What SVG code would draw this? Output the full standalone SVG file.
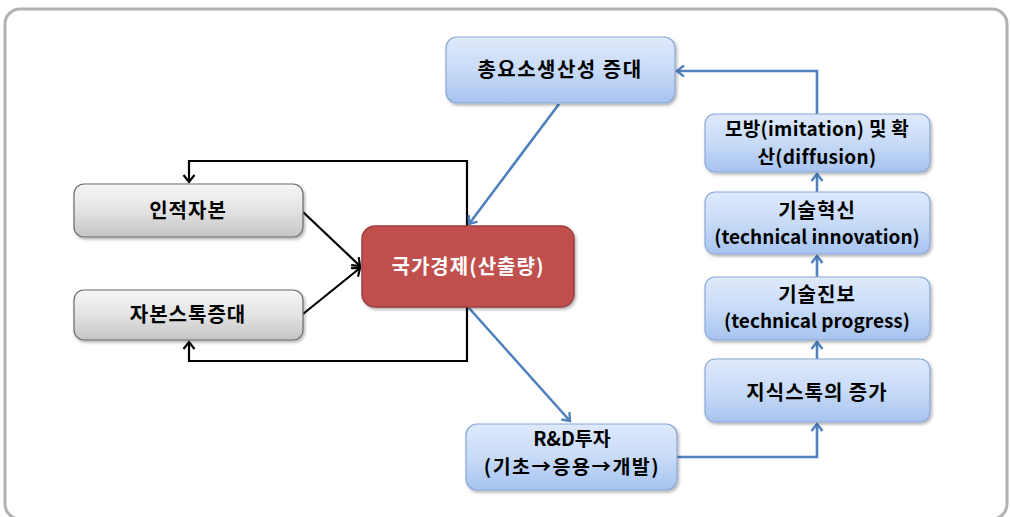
<svg xmlns="http://www.w3.org/2000/svg" width="1010" height="517" viewBox="0 0 1010 517">
<style>
.t{font-family:"Malgun Gothic","Noto Sans CJK KR","Noto Sans",sans-serif;font-weight:bold;font-size:19.5px;text-anchor:middle;fill:#000}
.k{font-size:20px;letter-spacing:1px}
.w{fill:#fff}
.blue{fill:url(#gb);stroke:#8aa8d6;stroke-width:1.2}
.gray{fill:url(#gg);stroke:#6a6a6a;stroke-width:1.2}
.red{fill:#c0504d;stroke:#9c3f3d;stroke-width:1.5}
.cb{fill:none;stroke:#000;stroke-width:2.2}
.cl{fill:none;stroke:#4f81bd;stroke-width:2.6}
</style>
<defs>
<linearGradient id="gb" x1="0" y1="0" x2="0" y2="1">
<stop offset="0" stop-color="#dfe9fb"/>
<stop offset="0.5" stop-color="#c8dbf7"/>
<stop offset="1" stop-color="#a6c3ef"/>
</linearGradient>
<linearGradient id="gg" x1="0" y1="0" x2="0" y2="1">
<stop offset="0" stop-color="#f6f6f6"/>
<stop offset="0.5" stop-color="#e3e3e3"/>
<stop offset="1" stop-color="#c4c4c4"/>
</linearGradient>
<filter id="sh" x="-10%" y="-10%" width="130%" height="140%">
<feDropShadow dx="1.5" dy="2" stdDeviation="1.5" flood-color="#000" flood-opacity="0.3"/>
</filter>
<marker id="ab" markerUnits="userSpaceOnUse" markerWidth="14" markerHeight="14" refX="10" refY="7" orient="auto">
<path d="M3,1.5 L10,7 L3,12.5" fill="none" stroke="#000" stroke-width="2.2"/>
</marker>
<marker id="al" markerUnits="userSpaceOnUse" markerWidth="14" markerHeight="14" refX="10" refY="7" orient="auto">
<path d="M3,1.5 L10,7 L3,12.5" fill="none" stroke="#4f81bd" stroke-width="2.4"/>
</marker>
</defs>
<rect x="5" y="9" width="1002" height="510" rx="15" fill="#fff" stroke="#b2b2b2" stroke-width="3"/>

<g id="connectors">
<path class="cb" d="M467,226 V161 H189 V182" marker-end="url(#ab)"/>
<path class="cb" d="M467,307 V361 H189 V342" marker-end="url(#ab)"/>
<path class="cb" d="M303,212 L360,266" marker-end="url(#ab)"/>
<path class="cb" d="M303,314 L360,268" marker-end="url(#ab)"/>
<path class="cl" d="M559,104 L469,224" marker-end="url(#al)"/>
<path class="cl" d="M469,308 L570,421" marker-end="url(#al)"/>
<path class="cl" d="M677,457 H817 V424" marker-end="url(#al)"/>
<path class="cl" d="M817,359 V342" marker-end="url(#al)"/>
<path class="cl" d="M817,277 V256" marker-end="url(#al)"/>
<path class="cl" d="M817,192 V174" marker-end="url(#al)"/>
<path class="cl" d="M817,114 V71 H677" marker-end="url(#al)"/>
</g>

<g id="tfp">
<rect class="blue" x="446" y="37" width="229" height="66" rx="11" filter="url(#sh)"/>
<text class="t k" x="560" y="77" style="letter-spacing:1.5px">총요소생산성 증대</text>
</g>
<g id="human">
<rect class="gray" x="74" y="184" width="229" height="53" rx="10" filter="url(#sh)"/>
<text class="t k" x="188" y="218">인적자본</text>
</g>
<g id="capital">
<rect class="gray" x="74" y="290" width="229" height="50" rx="10" filter="url(#sh)"/>
<text class="t k" x="188" y="322">자본스톡증대</text>
</g>
<g id="economy">
<rect class="red" x="362" y="226" width="212" height="81" rx="13" filter="url(#sh)"/>
<text class="t k w" x="468" y="274">국가경제(산출량)</text>
</g>
<g id="imitation">
<rect class="blue" x="705" y="114" width="225" height="58" rx="10" filter="url(#sh)"/>
<text class="t" x="817" y="136" style="font-size:19px;letter-spacing:0.3px">모방(imitation) 및 확</text>
<text class="t" x="817" y="164" style="font-size:19px;letter-spacing:0.3px">산(diffusion)</text>
</g>
<g id="innovation">
<rect class="blue" x="705" y="192" width="225" height="62" rx="10" filter="url(#sh)"/>
<text class="t k" x="817" y="218">기술혁신</text>
<text class="t" x="817" y="244" style="font-size:19px">(technical innovation)</text>
</g>
<g id="progress">
<rect class="blue" x="705" y="277" width="225" height="63" rx="10" filter="url(#sh)"/>
<text class="t k" x="817" y="302">기술진보</text>
<text class="t" x="817" y="328" style="font-size:19px">(technical progress)</text>
</g>
<g id="knowledge">
<rect class="blue" x="705" y="359" width="225" height="63" rx="10" filter="url(#sh)"/>
<text class="t k" x="817" y="400">지식스톡의 증가</text>
</g>
<g id="rnd">
<rect class="blue" x="466" y="424" width="211" height="66" rx="11" filter="url(#sh)"/>
<text class="t" x="572" y="446">R&amp;D투자</text>
<text class="t" x="572" y="474" style="letter-spacing:1.5px">(기초→응용→개발)</text>
</g>
</svg>
